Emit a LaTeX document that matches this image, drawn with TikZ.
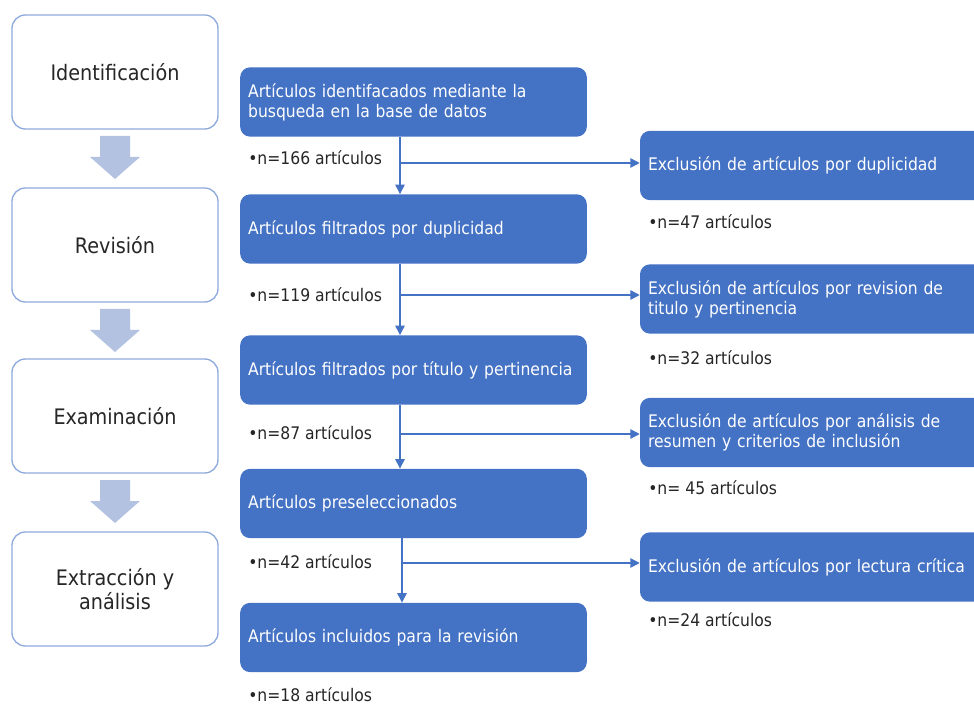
\documentclass[tikz,border=0pt]{standalone}
\usepackage{fontspec}
\setmainfont{DejaVu Sans Condensed}
\usetikzlibrary{arrows.meta,positioning}
\definecolor{boxblue}{RGB}{68,114,196}
\definecolor{edgeblue}{RGB}{143,170,220}
\definecolor{arrowgrey}{RGB}{180,194,226}
\tikzset{
	stage/.style 	= {draw = edgeblue, line width = 1pt, rounded corners = 10pt,
		fill = white, minimum width = 154.5pt, minimum height = 85.5pt,
		align = center, text = black!85, font = \fontsize{16}{18}\selectfont},
	filtered/.style = {fill = boxblue, rounded corners = 7.5pt, text = white,
		inner xsep = 6pt, text width = 248pt, minimum height = 52pt,
		align = left, font = \fontsize{13}{15}\selectfont},
	excluded/.style = {filtered, text width = 250.5pt},
	count/.style 	= {anchor = west, inner sep = 0, text = black!85,
		font = \fontsize{13}{15}\selectfont},
	flow/.style 	= {draw = boxblue, line width = 1pt,
		-{Triangle[length = 7pt, width = 7pt]}},
	stage arrow/.style = {fill = arrowgrey},
}

\begin{document}
\begin{tikzpicture}[x = 0.75pt, y = -0.75pt]
\useasboundingbox (0,0) rectangle (974,705);
% fases
\node[stage] (ident) at (115,72)  {Identificación};
\node[stage] (revis) at (115,245) {Revisión};
\node[stage] (exam)  at (115,416) {Examinación};
\node[stage] (extr)  at (115,589) {Extracción y\\análisis};
\foreach \ya in {136,309,480}
	\fill[stage arrow] (100,\ya) -- ++(30,0) -- ++(0,21) -- ++(10,0)
		-- ++(-25,22) -- ++(-25,-22) -- ++(10,0) -- cycle;
% articulos que siguen
\node[filtered] (found)  at (413.5,102)   {Artículos identifacados mediante la\\busqueda en la base de datos};
\node[filtered] (dupl)   at (413.5,229)   {Artículos filtrados por duplicidad};
\node[filtered] (title)  at (413.5,370)   {Artículos filtrados por título y pertinencia};
\node[filtered] (presel) at (413.5,503.5) {Artículos preseleccionados};
\node[filtered] (incl)   at (413.5,637.5) {Artículos incluidos para la revisión};
\node[count] (n166) at (248,158) {•n=166 artículos};
\node[count] (n119) at (248,295) {•n=119 artículos};
\node[count] (n87)  at (248,433) {•n=87 artículos};
\node[count] (n42)  at (248,562) {•n=42 artículos};
\node[count] (n18)  at (248,695) {•n=18 artículos};
% articulos excluidos
\node[excluded] (exdupl)  at (815,165.5) {Exclusión de artículos por duplicidad};
\node[excluded] (extitle) at (815,299)   {Exclusión de artículos por revision de\\titulo y pertinencia};
\node[excluded] (exsum)   at (815,432.5) {Exclusión de artículos por análisis de\\resumen y criterios de inclusión};
\node[excluded] (exread)  at (815,567)   {Exclusión de artículos por lectura crítica};
\node[count] (n47) at (648,222) {•n=47 artículos};
\node[count] (n32) at (648,358) {•n=32 artículos};
\node[count] (n45) at (648,488) {•n= 45 artículos};
\node[count] (n24) at (648,620) {•n=24 artículos};
% conectores
\coordinate (b1) at (400,163);
\coordinate (b2) at (400,295);
\coordinate (b3) at (400,434);
\coordinate (b4) at (402,563);
\draw[flow] (found.south -| b1) -- (dupl.north -| b1);
\draw[flow] (dupl.south -| b2) -- (title.north -| b2);
\draw[flow] (title.south -| b3) -- (presel.north -| b3);
\draw[flow] (presel.south -| b4) -- (incl.north -| b4);
\draw[flow] (b1) -- (exdupl.west |- b1);
\draw[flow] (b2) -- (extitle.west |- b2);
\draw[flow] (b3) -- (exsum.west |- b3);
\draw[flow] (b4) -- (exread.west |- b4);
\end{tikzpicture}
\end{document}
